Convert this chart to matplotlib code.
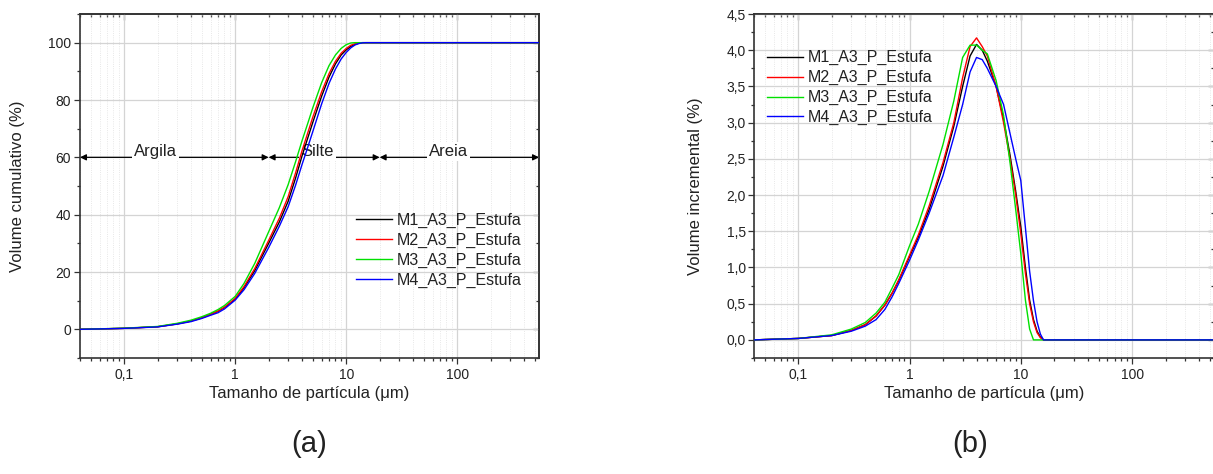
import matplotlib
matplotlib.use("Agg")
import matplotlib.pyplot as plt
from matplotlib.ticker import LogLocator, FuncFormatter, NullFormatter, MultipleLocator

plt.rcParams['font.family'] = ['Liberation Sans', 'DejaVu Sans']

# ---------------- data ----------------
sizes = [0.04, 0.1, 0.2, 0.3, 0.4, 0.5, 0.6, 0.7, 0.8, 1.0, 1.2, 1.5, 2.0, 2.5, 3.0,
         3.5, 4.0, 4.5, 5.0, 6.0, 7.0, 8.0, 9.0, 10, 11, 12, 13, 14, 15, 16,
         20, 50, 100, 200, 545]

series_names = ["M1_A3_P_Estufa", "M2_A3_P_Estufa", "M3_A3_P_Estufa", "M4_A3_P_Estufa"]
series_colors = ["#000000", "#ff0000", "#00e000", "#0000ff"]

cum_m1 = [0.0, 0.35, 0.9, 1.9, 2.9, 4.0, 5.2, 6.3, 7.6, 10.5, 14.5, 20.5, 30.0, 37.5, 44.7,
          52.8, 60.5, 66.7, 72.2, 81.3, 88.0, 92.6, 95.7, 97.5, 98.7, 99.4, 99.8, 100, 100, 100,
          100, 100, 100, 100, 100]
cum_m2 = [0.0, 0.35, 0.9, 1.9, 2.9, 4.0, 5.2, 6.4, 7.7, 10.8, 14.9, 21.2, 31.0, 38.8, 46.3,
          54.6, 62.3, 68.5, 74.0, 82.8, 89.2, 93.5, 96.3, 98.0, 99.1, 99.6, 99.9, 100, 100, 100,
          100, 100, 100, 100, 100]
cum_m3 = [0.0, 0.4, 1.0, 2.1, 3.2, 4.4, 5.6, 6.9, 8.3, 11.5, 16.0, 23.0, 34.0, 42.5, 50.5,
          58.5, 65.8, 71.8, 77.3, 86.0, 92.0, 95.7, 98.0, 99.3, 99.9, 100, 100, 100, 100, 100,
          100, 100, 100, 100, 100]
cum_m4 = [0.0, 0.33, 0.85, 1.8, 2.7, 3.8, 4.9, 5.8, 7.1, 10.2, 13.8, 19.5, 28.5, 36.0, 42.8,
          50.3, 57.5, 63.5, 69.0, 78.6, 85.8, 90.8, 94.3, 96.6, 98.2, 99.2, 99.7, 99.95, 100, 100,
          100, 100, 100, 100, 100]

inc_m1 = [0.0, 0.02, 0.06, 0.13, 0.21, 0.33, 0.48, 0.65, 0.82, 1.15, 1.42, 1.80, 2.40, 2.95, 3.50,
          3.92, 4.08, 4.00, 3.85, 3.50, 3.05, 2.55, 2.05, 1.56, 1.00, 0.55, 0.28, 0.12, 0.04, 0.0,
          0.0, 0.0, 0.0, 0.0, 0.0]
inc_m2 = [0.0, 0.02, 0.06, 0.13, 0.21, 0.33, 0.48, 0.65, 0.83, 1.17, 1.45, 1.85, 2.45, 3.00, 3.62,
          4.05, 4.17, 4.05, 3.92, 3.50, 3.00, 2.50, 2.00, 1.47, 0.92, 0.50, 0.25, 0.10, 0.03, 0.0,
          0.0, 0.0, 0.0, 0.0, 0.0]
inc_m3 = [0.0, 0.02, 0.07, 0.15, 0.24, 0.37, 0.52, 0.72, 0.90, 1.30, 1.60, 2.05, 2.70, 3.30, 3.90,
          4.07, 4.07, 4.00, 3.95, 3.58, 3.10, 2.45, 1.80, 1.19, 0.55, 0.15, 0.0, 0.0, 0.0, 0.0,
          0.0, 0.0, 0.0, 0.0, 0.0]
inc_m4 = [0.0, 0.02, 0.06, 0.12, 0.19, 0.28, 0.42, 0.60, 0.78, 1.10, 1.38, 1.75, 2.27, 2.80, 3.25,
          3.70, 3.90, 3.87, 3.75, 3.50, 3.25, 2.85, 2.50, 2.20, 1.55, 0.95, 0.54, 0.25, 0.08, 0.0,
          0.0, 0.0, 0.0, 0.0, 0.0]

# size classes (boundaries in µm) and labels
class_bounds = [0.04, 2, 20, 545]
class_labels = ["Argila", "Silte", "Areia"]
class_label_x = [0.19, 5.5, 84]

xlim = (0.04, 545)
xlabel = "Tamanho de partícula (\u03bcm)"

# ---------------- figure ----------------
W, H = 1213, 474
fig = plt.figure(figsize=(W / 100, H / 100), dpi=100)

def px_axes(x0, x1, ytop, ybot):
    return [x0 / W, 1 - ybot / H, (x1 - x0) / W, (ybot - ytop) / H]

ax1 = fig.add_axes(px_axes(80, 539, 14, 358))
ax2 = fig.add_axes(px_axes(754, 1214, 14, 358))

spine_c = "#333333"
text_c = "#222222"

def style_axes(ax, yfmt, ymajor, yminor, ylim, ypad):
    ax.set_xscale('log')
    ax.set_xlim(*xlim)
    ax.set_ylim(*ylim)
    ax.xaxis.set_major_locator(LogLocator(base=10, numticks=20))
    ax.xaxis.set_minor_locator(LogLocator(base=10, subs=range(2, 10), numticks=100))
    ax.xaxis.set_major_formatter(FuncFormatter(lambda v, p: f"{v:g}".replace('.', ',')))
    ax.xaxis.set_minor_formatter(NullFormatter())
    ax.yaxis.set_major_locator(MultipleLocator(ymajor))
    ax.yaxis.set_minor_locator(MultipleLocator(yminor))
    ax.yaxis.set_major_formatter(FuncFormatter(yfmt))
    for s in ax.spines.values():
        s.set_color(spine_c)
        s.set_linewidth(1.2)
    ax.tick_params(which='both', color=spine_c, width=0.9)
    ax.tick_params(axis='x', which='major', direction='out', length=4.5, pad=3,
                   labelsize=10, labelcolor=text_c)
    ax.tick_params(axis='y', which='major', direction='out', length=4.5, pad=ypad,
                   labelsize=10, labelcolor=text_c)
    ax.tick_params(which='minor', direction='out', length=2.5)
    ax.set_axisbelow(True)
    ax.grid(which='major', axis='both', color='#d4d4d4', lw=0.9, ls='-')
    ax.grid(which='minor', axis='x', color='#e0e0e0', lw=0.6, ls=':')

def inward_top_right(ax):
    # top / right ticks point inward (Origin style)
    sx = ax.secondary_xaxis('top')
    sx.set_xscale('log')
    sx.xaxis.set_major_locator(LogLocator(base=10, numticks=20))
    sx.xaxis.set_minor_locator(LogLocator(base=10, subs=range(2, 10), numticks=100))
    sx.xaxis.set_major_formatter(NullFormatter())
    sx.xaxis.set_minor_formatter(NullFormatter())
    sx.tick_params(which='major', direction='in', length=4.5, color=spine_c, width=0.9)
    sx.tick_params(which='minor', direction='in', length=2.5, color=spine_c, width=0.9)
    sx.spines['top'].set_color(spine_c)
    sx.spines['top'].set_linewidth(1.2)
    sy = ax.secondary_yaxis('right')
    sy.yaxis.set_major_locator(ax.yaxis.get_major_locator())
    sy.yaxis.set_minor_locator(ax.yaxis.get_minor_locator())
    sy.yaxis.set_major_formatter(NullFormatter())
    sy.tick_params(which='major', direction='in', length=4.5, color=spine_c, width=0.9)
    sy.tick_params(which='minor', direction='in', length=2.5, color=spine_c, width=0.9)
    sy.spines['right'].set_color(spine_c)
    sy.spines['right'].set_linewidth(1.2)
    ax.tick_params(which='both', top=False, right=False)

style_axes(ax1, lambda v, p: f"{v:.0f}", 20, 10, (-10, 110), 2)
style_axes(ax2, lambda v, p: f"{v:.1f}".replace('.', ','), 0.5, 0.25, (-0.25, 4.5), 1.5)
inward_top_right(ax1)
inward_top_right(ax2)

cum_series = [cum_m1, cum_m2, cum_m3, cum_m4]
inc_series = [inc_m1, inc_m2, inc_m3, inc_m4]
for name, col, cy in zip(series_names, series_colors, cum_series):
    ax1.plot(sizes, cy, color=col, lw=1.0, label=name, zorder=3)
for name, col, iy in zip(series_names, series_colors, inc_series):
    ax2.plot(sizes, iy, color=col, lw=1.0, label=name, zorder=3)

# class arrows
for i in range(len(class_labels)):
    ax1.annotate("", xy=(class_bounds[i], 60), xytext=(class_bounds[i + 1], 60),
                 arrowprops=dict(arrowstyle='<|-|>', color='black', lw=0.9,
                                 shrinkA=0, shrinkB=0, mutation_scale=9),
                 zorder=1.2, annotation_clip=False)
    ax1.text(class_label_x[i], 62, class_labels[i], ha='center', va='center',
             fontsize=12, color=text_c, zorder=1.5,
             bbox=dict(facecolor='white', edgecolor='none', pad=1.5))

leg_kw = dict(frameon=False, fontsize=11.5, handlelength=2.25, handletextpad=0.3,
              labelspacing=0.3, borderpad=0, borderaxespad=0, loc='upper left')
l1 = ax1.legend(bbox_to_anchor=(0.601, 0.4224), **leg_kw)
l2 = ax2.legend(bbox_to_anchor=(0.0276, 0.8945), **leg_kw)
for lg in (l1, l2):
    for t in lg.get_texts():
        t.set_color(text_c)

ax1.set_xlabel(xlabel, fontsize=12, color=text_c)
ax2.set_xlabel(xlabel, fontsize=12, color=text_c)
ax1.set_ylabel("Volume cumulativo (%)", fontsize=12, color=text_c)
ax2.set_ylabel("Volume incremental (%)", fontsize=12, color=text_c)
ax1.xaxis.set_label_coords(0.5, -0.08)
ax2.xaxis.set_label_coords(0.5, -0.08)
ax1.yaxis.set_label_coords(-0.12, 0.5)
ax2.yaxis.set_label_coords(-0.111, 0.5)

fig.text(309 / W, 1 - 444 / H, "(a)", fontsize=21, ha='center', va='center', color=text_c)
fig.text(970 / W, 1 - 444 / H, "(b)", fontsize=21, ha='center', va='center', color=text_c)

fig.savefig("out.png", dpi=100)
